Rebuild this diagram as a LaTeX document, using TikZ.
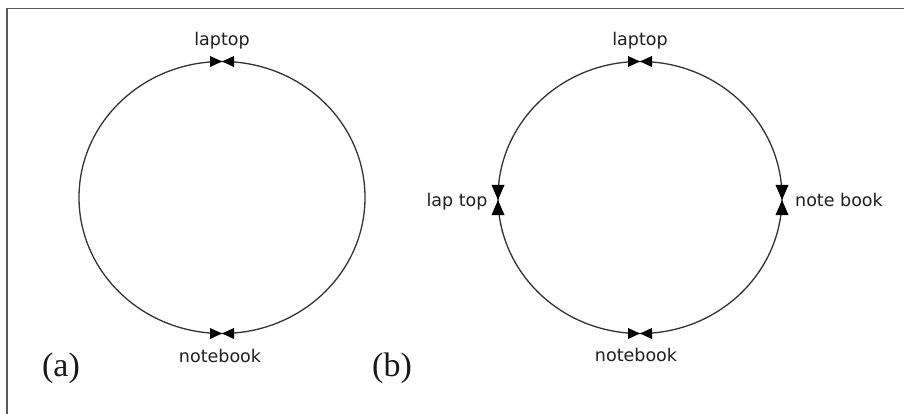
\documentclass[tikz,border=0pt]{standalone}
\usepackage{fontspec}
\setmainfont{Liberation Serif}
\newfontfamily\labelfont{DejaVu Sans}
\begin{document}
\begin{tikzpicture}[x=1pt,y=-1pt,
  ring/.style={draw=black!80, line width=1.3pt},
  tag/.style={font=\labelfont\fontsize{17.5}{20}\selectfont, text=black!88, inner sep=0pt, anchor=base},
  caption/.style={font=\fontsize{34}{38}\selectfont, text=black!90, inner sep=0pt, anchor=base},
  frameline/.style={draw=black!65, line width=1.5pt},
  hbow/.pic={
    \fill[black] (-12,-5.5) -- (0,0) -- (-12,5.5) -- cycle;
    \fill[black] (12,-5.5) -- (0,0) -- (12,5.5) -- cycle;
  },
  vbow/.pic={
    \fill[black] (-6.5,-15) -- (0,0) -- (6.5,-15) -- cycle;
    \fill[black] (-6.5,15) -- (0,0) -- (6.5,15) -- cycle;
  }
]
\useasboundingbox (0,0) rectangle (904,414);
\fill[white] (0,0) rectangle (904,414);

% partial frame along the top and left edges
\draw[frameline] (7,414) -- (7,8.5) -- (904,8.5);

% ---- (a): two states on one ring
\coordinate (ca) at (222,197.5);
\draw[ring] (ca) ellipse [x radius=143, y radius=136];
\coordinate (aTop) at (222,61.5);
\coordinate (aBot) at (222,333.5);
\pic at (aTop) {hbow};
\pic at (aBot) {hbow};
\node[tag] (aLaptop) at (222,46) {laptop};
\node[tag] (aNotebook) at (220,362) {notebook};
\node[caption] (capA) at (61,376) {(a)};

% ---- (b): four states on one ring
\coordinate (cb) at (640,197.5);
\draw[ring] (cb) ellipse [x radius=142, y radius=136];
\coordinate (bTop) at (640,61.5);
\coordinate (bBot) at (640,333.5);
\coordinate (bLeft) at (498,200);
\coordinate (bRight) at (782,200);
\pic at (bTop) {hbow};
\pic at (bBot) {hbow};
\pic at (bLeft) {vbow};
\pic at (bRight) {vbow};
\node[tag] (bLaptop) at (640,46) {laptop};
\node[tag] (bNotebook) at (636,361) {notebook};
\node[tag] (bLapTop) at (457,207) {lap top};
\node[tag] (bNoteBook) at (839,207) {note book};
\node[caption] (capB) at (392,376) {(b)};
\end{tikzpicture}
\end{document}
